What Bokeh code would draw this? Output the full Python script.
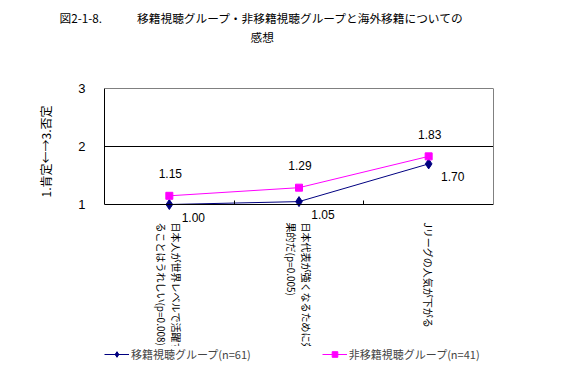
import numpy as np
from bokeh.plotting import figure
from bokeh.models import (Range1d, FixedTicker, ColumnDataSource, LabelSet, Title,
                          Legend, LegendItem, LinearAxis, Grid)
from bokeh.embed import file_html
from bokeh.resources import INLINE
from bokeh.core.properties import value

# ---------------- data ----------------
title_lines = ["図2-1-8.　　　移籍視聴グループ・非移籍視聴グループと海外移籍についての", "感想"]
categories = [
    "日本人が世界レベルで活躍す\nることはうれしい(p=0.008)",
    "日本代表が強くなるために効\n果的だ(p=0.005)",
    "Jリーグの人気が下がる",
]
series_names = ["移籍視聴グループ(n=61)", "非移籍視聴グループ(n=41)"]
transfer_viewers = [1.00, 1.05, 1.70]
non_transfer_viewers = [1.15, 1.29, 1.83]
y_ticks = [1, 2, 3]
y_label = "1.肯定←→3.否定"

JP = "Noto Sans CJK JP"
NUM = "Liberation Sans"

# ---------------- layout (pixels) ----------------
W, H = 551, 368
box_l, box_r, box_t, box_b = 104, 493, 88, 204   # visible plot box
T, B = 44, 6                                      # top / bottom panel sizes
n = len(categories)
y0, y1 = y_ticks[0], y_ticks[-1]
sy = (box_b - box_t) / (y1 - y0)
fr_b = H - B
x_range = Range1d(0, n)
y_range = Range1d(y0 - (fr_b - box_b) / sy, y1 + (box_t - T) / sy)

x_pos = np.arange(n) + 0.5

p = figure(width=W, height=H, output_backend="svg", toolbar_location=None,
           x_range=x_range, y_range=y_range, title=None,
           min_border_left=box_l, min_border_right=W - box_r,
           min_border_top=T, min_border_bottom=B)
p.background_fill_color = "white"
p.border_fill_color = "white"
p.outline_line_color = None

# x axis (at y=1)
p.xaxis.fixed_location = y0
p.xaxis.bounds = (0, n)
p.xaxis.ticker = FixedTicker(ticks=[], minor_ticks=list(range(n + 1)))
p.xaxis.major_tick_in = 0
p.xaxis.major_tick_out = 0
p.xaxis.minor_tick_in = 4
p.xaxis.minor_tick_out = 0
p.xaxis.minor_tick_line_color = "black"
p.xaxis.major_label_standoff = 0
p.xaxis.axis_line_color = "black"
p.xgrid.visible = False

# y axis (left frame edge, drawn between 1 and 3)
p.yaxis.bounds = (y0, y1)
p.yaxis.ticker = FixedTicker(ticks=y_ticks)
p.yaxis.major_tick_in = 0
p.yaxis.major_tick_out = 0
p.yaxis.minor_tick_line_color = None
p.yaxis.major_label_standoff = 19
p.yaxis.major_label_text_font = NUM
p.yaxis.major_label_text_font_size = "13px"
p.yaxis.major_label_text_color = "black"
p.yaxis.axis_line_color = "black"

# y axis title (left panel, placed beside the 1..3 span)
p.add_layout(Title(text=y_label, align="left", offset=fr_b - 197, standoff=43,
                   text_font=JP, text_font_size="12px", text_font_style="normal",
                   text_color="black"), "left")

# right border (gray) drawn between 1 and 3
rax = LinearAxis(bounds=(y0, y1), ticker=FixedTicker(ticks=[]),
                 axis_line_color="#808080", major_tick_line_color=None,
                 minor_tick_line_color=None, major_label_standoff=0)
p.add_layout(rax, "right")

# grid: 2 black, 3 gray (top border)
p.ygrid.ticker = FixedTicker(ticks=y_ticks[1:-1])
p.ygrid.grid_line_color = "black"
p.add_layout(Grid(dimension=1, ticker=FixedTicker(ticks=[y1]),
                  grid_line_color="#808080"))

# series
c1, c2 = "#000080", "#FF00FF"
r1l = p.line(x_pos, transfer_viewers, line_color=c1, line_width=1)
r1m = p.scatter(x_pos, transfer_viewers, marker="diamond", size=10,
                fill_color=c1, line_color=c1)
r2l = p.line(x_pos, non_transfer_viewers, line_color=c2, line_width=1)
r2m = p.scatter(x_pos, non_transfer_viewers, marker="square", size=7,
                fill_color=c2, line_color=c2)

# data labels
s1 = ColumnDataSource(dict(x=x_pos, y=transfer_viewers,
                           t=[f"{v:.2f}" for v in transfer_viewers]))
s2 = ColumnDataSource(dict(x=x_pos, y=non_transfer_viewers,
                           t=[f"{v:.2f}" for v in non_transfer_viewers]))
p.add_layout(LabelSet(x="x", y="y", text="t", source=s1, x_offset=24, y_offset=-13,
                      text_align="center", text_baseline="middle",
                      text_font=value(NUM), text_font_size=value("12px"),
                      text_color="black"))
p.add_layout(LabelSet(x="x", y="y", text="t", source=s2, x_offset=1, y_offset=22,
                      text_align="center", text_baseline="middle",
                      text_font=value(NUM), text_font_size=value("12px"),
                      text_color="black"))

# category labels (vertical)
sc = ColumnDataSource(dict(x=x_pos, y=[y0] * n, t=categories))
p.add_layout(LabelSet(x="x", y="y", text="t", source=sc, angle=-np.pi / 2,
                      y_offset=-18, text_align="left", text_baseline="middle",
                      text_font=value(JP), text_font_size=value("10px"),
                      text_line_height=1.0, text_color="black"))

# title (two lines, stacked upward)
p.add_layout(Title(text=title_lines[1], align="left", offset=250 - box_l, standoff=0,
                   text_font=JP, text_font_size="11.7px", text_font_style="normal",
                   text_color="black"), "above")
p.add_layout(Title(text=title_lines[0], align="left", offset=59 - box_l, standoff=0,
                   text_font=JP, text_font_size="11.7px", text_font_style="normal",
                   text_color="black"), "above")

# legend
legend = Legend(items=[LegendItem(label=series_names[0], renderers=[r1l, r1m]),
                       LegendItem(label=series_names[1], renderers=[r2l, r2m])],
                orientation="horizontal", location=(0, 0), spacing=71,
                glyph_width=25, glyph_height=14, label_height=14, label_standoff=2,
                padding=0, margin=0, border_line_color=None,
                background_fill_color="white", background_fill_alpha=1.0,
                label_text_font=JP, label_text_font_size="11px")
p.add_layout(legend)

open("out.html", "w").write(file_html(p, INLINE))
